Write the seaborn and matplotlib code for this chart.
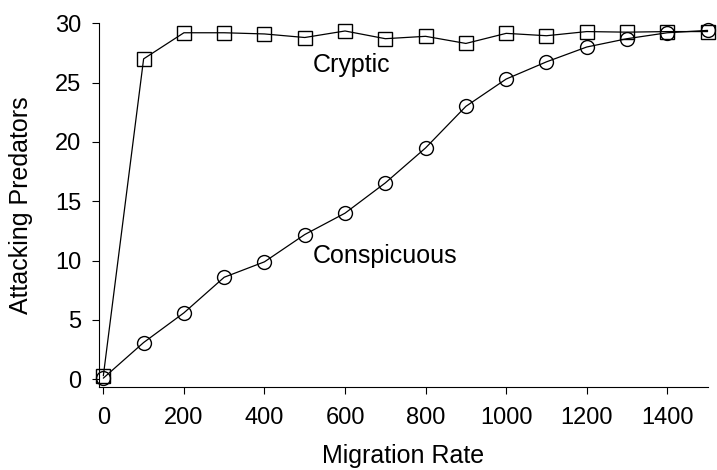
import matplotlib
matplotlib.use("Agg")
import matplotlib.pyplot as plt
import seaborn as sns
import pandas as pd

migration = [0, 100, 200, 300, 400, 500, 600, 700, 800, 900, 1000, 1100, 1200, 1300, 1400, 1500]
cryptic = [0.3, 27.0, 29.2, 29.2, 29.1, 28.8, 29.35, 28.7, 28.9, 28.3, 29.15, 28.95, 29.3, 29.25, 29.3, 29.3]
conspicuous = [0.1, 3.1, 5.6, 8.6, 9.9, 12.2, 14.0, 16.55, 19.5, 23.0, 25.3, 26.75, 28.0, 28.7, 29.2, 29.4]
xticks = [0, 200, 400, 600, 800, 1000, 1200, 1400]
yticks = [0, 5, 10, 15, 20, 25, 30]

sns.set_style("ticks")
plt.rcParams['font.family'] = ['Liberation Sans', 'DejaVu Sans']
plt.rcParams['text.color'] = 'black'
plt.rcParams['axes.labelcolor'] = 'black'
plt.rcParams['xtick.color'] = 'black'
plt.rcParams['ytick.color'] = 'black'

fig = plt.figure(figsize=(7.17, 4.70), dpi=100)
ax = fig.add_axes([0.1385, 0.176, 0.8484, 0.7745])

df_c = pd.DataFrame({"x": migration, "y": cryptic})
df_s = pd.DataFrame({"x": migration, "y": conspicuous})

sns.lineplot(data=df_c, x="x", y="y", ax=ax, color="black", linewidth=0.9,
             marker="s", markersize=10, markerfacecolor="none",
             markeredgecolor="black", markeredgewidth=1.0, clip_on=False)
sns.lineplot(data=df_s, x="x", y="y", ax=ax, color="black", linewidth=0.9,
             marker="o", markersize=10, markerfacecolor="none",
             markeredgecolor="black", markeredgewidth=1.0, clip_on=False)

ax.set_xlim(-10, 1500)
ax.set_ylim(-0.67, 30)
ax.set_xticks(xticks)
ax.set_yticks(yticks)
ax.tick_params(direction="out", length=5, width=0.8, labelsize=17,
               colors="black", labelcolor="black")
ax.tick_params(axis="x", pad=9)
ax.tick_params(axis="y", pad=8)
for s in ["top", "right"]:
    ax.spines[s].set_visible(False)
for s in ["left", "bottom"]:
    ax.spines[s].set_linewidth(0.8)
    ax.spines[s].set_color("black")

ax.set_xlabel("Migration Rate", fontsize=18, labelpad=11, color="black")
ax.set_ylabel("Attacking Predators", fontsize=18, labelpad=16, color="black")

ax.text(615, 26.5, "Cryptic", fontsize=18, ha="center", va="center", color="black")
ax.text(520, 10.35, "Conspicuous", fontsize=18, ha="left", va="center", color="black")

fig.savefig("out.png", dpi=100)
